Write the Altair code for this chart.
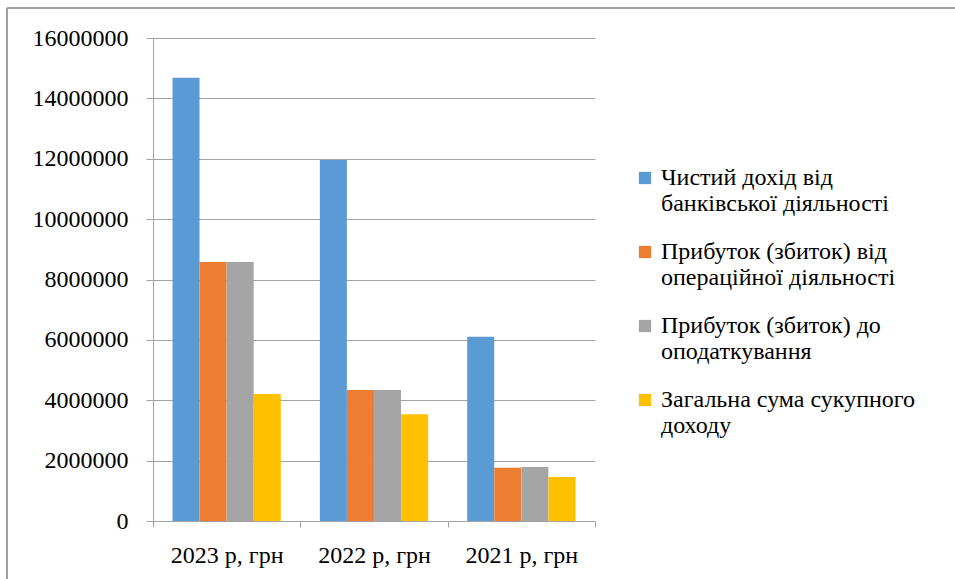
import altair as alt
import pandas as pd

# Categories (reporting years) and the four indicators, in hryvnias
years = ["2023 р, грн", "2022 р, грн", "2021 р, грн"]
series = [
    "Чистий дохід від\nбанківської діяльності",
    "Прибуток (збиток) від\nопераційної діяльності",
    "Прибуток (збиток) до\nоподаткування",
    "Загальна сума сукупного\nдоходу",
]
net_banking_income = [14680000, 11960000, 6100000]
operating_profit = [8580000, 4340000, 1760000]
pretax_profit = [8580000, 4340000, 1790000]
total_comprehensive_income = [4210000, 3540000, 1460000]
colors = ["#5B9BD5", "#ED7D31", "#A5A5A5", "#FFC000"]
y_ticks = [0, 2000000, 4000000, 6000000, 8000000, 10000000, 12000000, 14000000, 16000000]

values = [net_banking_income, operating_profit, pretax_profit, total_comprehensive_income]
rows = []
for s_idx, s in enumerate(series):
    for y_idx, yr in enumerate(years):
        rows.append({"year": yr, "series": s, "order": s_idx, "value": values[s_idx][y_idx]})
df = pd.DataFrame(rows)

FONT = "Times New Roman"
FS = 24
GRID = "#A3A3A3"
W, H = 442, 483
LEFT, TOP = 153, 38

bars = alt.Chart(df).mark_bar(size=27).encode(
    x=alt.X(
        "year:N",
        sort=years,
        title=None,
        scale=alt.Scale(paddingInner=0, paddingOuter=0),
        axis=alt.Axis(
            labelAngle=0,
            tickBand="extent",
            tickSize=6,
            tickColor=GRID,
            domainColor=GRID,
            labelPadding=16,
            labelFont=FONT,
            labelFontSize=FS,
            labelColor="#000000",
            grid=False,
        ),
    ),
    xOffset=alt.XOffset(
        "series:N",
        sort=series,
        scale=alt.Scale(paddingInner=0, paddingOuter=0.72),
    ),
    y=alt.Y(
        "value:Q",
        title=None,
        scale=alt.Scale(domain=[0, 16000000], nice=False),
        axis=alt.Axis(
            values=y_ticks,
            format="d",
            tickSize=7,
            tickColor=GRID,
            domainColor=GRID,
            gridColor=GRID,
            labelPadding=18,
            labelFont=FONT,
            labelFontSize=FS,
            labelColor="#000000",
        ),
    ),
    color=alt.Color(
        "series:N",
        sort=series,
        scale=alt.Scale(domain=series, range=colors),
        legend=alt.Legend(
            title=None,
            orient="none",
            legendX=480,
            legendY=128,
            symbolType="square",
            symbolSize=150,
            symbolStrokeWidth=0,
            labelFont=FONT,
            labelFontSize=FS,
            labelColor="#000000",
            labelLimit=400,
            labelOffset=4,
            rowPadding=24,
            labelExpr="split(datum.label, '\\n')",
        ),
    ),
)

# Outer frame of the chart box (top and left edges)
frame_top = alt.Chart(df).mark_rule(color="#A0A0A0", strokeWidth=1.5).encode(
    x=alt.value(7 - LEFT), x2=alt.value(955 - LEFT), y=alt.value(8 - TOP)
)
frame_left = alt.Chart(df).mark_rule(color="#A0A0A0", strokeWidth=1.5).encode(
    x=alt.value(7 - LEFT), y=alt.value(8 - TOP), y2=alt.value(579 - TOP)
)

chart = (
    alt.layer(bars, frame_top, frame_left)
    .properties(
        width=W,
        height=H,
        autosize=alt.AutoSizeParams(type="none"),
        padding={"left": LEFT, "top": TOP, "right": 955 - LEFT - W, "bottom": 579 - TOP - H},
        background="#FFFFFF",
    )
    .configure_view(stroke=None)
)

chart.save("out.html", embed_options={"renderer": "svg", "actions": False})
